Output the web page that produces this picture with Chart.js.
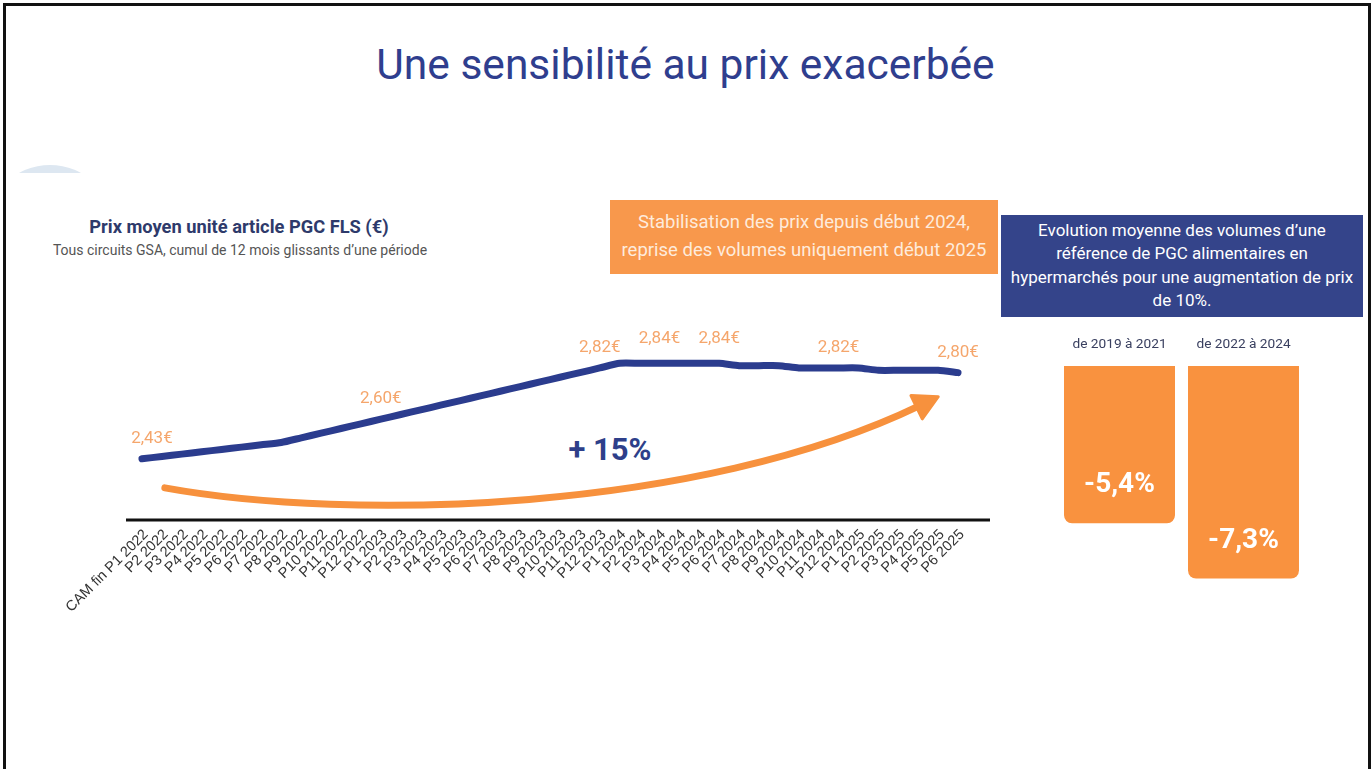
<!DOCTYPE html>
<html>
<head>
<meta charset="utf-8">
<script src="https://cdn.jsdelivr.net/npm/chart.js@4"></script>
<style>
  body { margin: 0; background: #fff; font-family: Roboto, "Noto Sans", sans-serif; }
  #page { position: relative; width: 1371px; height: 769px; overflow: hidden; }
  .frame { position: absolute; left: 3px; top: 3px; width: 1362px; height: 780px; border: 3px solid #111; border-bottom: none; }
  .title { position: absolute; left: 0; width: 1371px; top: 40px; text-align: center; font-size: 42.5px; color: #2F3E8E; }
  .deco { position: absolute; left: 18px; top: 165px; width: 64px; height: 8px; overflow: hidden; }
  .deco div { position: absolute; left: -32px; top: 0; width: 128px; height: 128px; border-radius: 50%; background: #DDE7F1; }
  .sub1 { position: absolute; left: 36px; width: 406px; top: 216px; text-align: center; font-weight: bold; font-size: 18.3px; color: #2E3A6B; }
  .sub2 { position: absolute; left: 10px; width: 460px; top: 242px; text-align: center; font-size: 14px; color: #555; }
  .obox { position: absolute; left: 610px; top: 200px; width: 388px; height: 74px; background: #F8984C; color: #FEEBDC;
          font-size: 18.5px; line-height: 28px; text-align: center; box-sizing: border-box; padding-top: 8px; }
  .nbox { position: absolute; left: 1001px; top: 215px; width: 362px; height: 102px; background: #34448A; color: #fff;
          font-size: 17px; line-height: 23.3px; text-align: center; box-sizing: border-box; padding-top: 4px; }
  .pct { position: absolute; left: 510px; width: 200px; top: 431px; text-align: center; font-weight: bold; font-size: 31px; color: #2E3F8A; }
  #lineWrap { position: absolute; left: 0; top: 320px; width: 1010px; height: 330px; }
  #barWrap { position: absolute; left: 1040px; top: 320px; width: 300px; height: 279px; }
</style>
</head>
<body>
<div id="page">
  <div class="frame"></div>
  <div class="title">Une sensibilité au prix exacerbée</div>
  <div class="deco"><div></div></div>
  <div class="sub1">Prix moyen unité article PGC FLS (€)</div>
  <div class="sub2">Tous circuits GSA, cumul de 12 mois glissants d’une période</div>
  <div class="obox">Stabilisation des prix depuis début 2024,<br>reprise des volumes uniquement début 2025</div>
  <div class="nbox">Evolution moyenne des volumes d’une<br>référence de PGC alimentaires en<br>hypermarchés pour une augmentation de prix<br>de 10%.</div>
  <div class="pct">+ 15%</div>
  <div id="lineWrap"><canvas id="priceChart"></canvas></div>
  <div id="barWrap"><canvas id="volChart"></canvas></div>
</div>
<script>
// periods (cumul 12 mois glissants)
var periods = ["CAM fin P1 2022", "P2 2022", "P3 2022", "P4 2022", "P5 2022", "P6 2022", "P7 2022", "P8 2022",
  "P9 2022", "P10 2022", "P11 2022", "P12 2022",
  "P1 2023", "P2 2023", "P3 2023", "P4 2023", "P5 2023", "P6 2023", "P7 2023", "P8 2023",
  "P9 2023", "P10 2023", "P11 2023", "P12 2023",
  "P1 2024", "P2 2024", "P3 2024", "P4 2024", "P5 2024", "P6 2024", "P7 2024", "P8 2024",
  "P9 2024", "P10 2024", "P11 2024", "P12 2024",
  "P1 2025", "P2 2025", "P3 2025", "P4 2025", "P5 2025", "P6 2025"];
var prices = [2.43, 2.44, 2.45, 2.46, 2.47, 2.48, 2.49, 2.50,
  2.52, 2.54, 2.56, 2.58,
  2.60, 2.62, 2.64, 2.66, 2.68, 2.70, 2.72, 2.74,
  2.76, 2.78, 2.80, 2.82,
  2.84, 2.84, 2.84, 2.84, 2.84, 2.84, 2.83, 2.83,
  2.83, 2.82, 2.82, 2.82,
  2.82, 2.81, 2.81, 2.81, 2.81, 2.80];
var labelledPoints = [0, 12, 23, 26, 29, 35, 41];

// arrow "+15%" as [category index, price] anchors
var arrowPath = [[1.15, 2.305], [10.45, 2.16], [28.0, 2.20], [39.1, 2.659]];

var volPeriods = ["de 2019 à 2021", "de 2022 à 2024"];
var volChange = [-5.4, -7.3];

var navy = '#2B3C8E';
var orange = '#F7913D';

function fr(v, d) { return v.toFixed(d).replace('.', ','); }

var priceDecor = {
  id: 'priceDecor',
  afterDatasetsDraw: function(chart) {
    var ctx = chart.ctx, x = chart.scales.x, y = chart.scales.y, a = chart.chartArea;
    ctx.save();
    // axis line
    ctx.strokeStyle = '#111';
    ctx.lineWidth = 3;
    ctx.beginPath();
    ctx.moveTo(a.left - 6, a.bottom);
    ctx.lineTo(a.right + 22, a.bottom);
    ctx.stroke();
    // orange arrow
    var p = arrowPath.map(function(q) { return [x.getPixelForValue(q[0]), y.getPixelForValue(q[1])]; });
    var dx = p[3][0] - p[2][0], dy = p[3][1] - p[2][1];
    var len = Math.sqrt(dx * dx + dy * dy); dx /= len; dy /= len;
    ctx.strokeStyle = orange;
    ctx.fillStyle = orange;
    ctx.lineWidth = 7;
    ctx.lineCap = 'round';
    ctx.beginPath();
    ctx.moveTo(p[0][0], p[0][1]);
    ctx.bezierCurveTo(p[1][0], p[1][1], p[2][0], p[2][1], p[3][0], p[3][1]);
    ctx.stroke();
    var tipX = p[3][0] + dx * 20, tipY = p[3][1] + dy * 20;
    ctx.lineJoin = 'round';
    ctx.lineWidth = 3;
    ctx.beginPath();
    ctx.moveTo(tipX, tipY);
    ctx.lineTo(p[3][0] - dx * 4 - dy * 13, p[3][1] - dy * 4 + dx * 13);
    ctx.lineTo(p[3][0] - dx * 4 + dy * 13, p[3][1] - dy * 4 - dx * 13);
    ctx.closePath();
    ctx.fill();
    ctx.stroke();
    // value labels
    ctx.fillStyle = '#F5A66C';
    ctx.font = '17px Roboto';
    ctx.textAlign = 'center';
    ctx.textBaseline = 'middle';
    var meta = chart.getDatasetMeta(0);
    labelledPoints.forEach(function(i) {
      var pt = meta.data[i];
      var off = prices[i] >= 2.84 ? 25 : 20;
      ctx.fillText(fr(prices[i], 2) + '€', pt.x + (i === 0 ? 10 : 0), pt.y - off);
    });
    ctx.restore();
  }
};

new Chart(document.getElementById('priceChart'), {
  type: 'line',
  data: {
    labels: periods,
    datasets: [{
      data: prices,
      borderColor: navy,
      borderWidth: 7,
      borderCapStyle: 'round',
      borderJoinStyle: 'round',
      pointRadius: 0,
      tension: 0.2
    }]
  },
  options: {
    responsive: true,
    maintainAspectRatio: false,
    animation: false,
    layout: { padding: { left: 132, right: 42, top: 0, bottom: 0 } },
    plugins: { legend: { display: false }, tooltip: { enabled: false } },
    scales: {
      x: {
        offset: true,
        grid: { display: false, drawTicks: false },
        border: { display: false },
        ticks: { autoSkip: false, minRotation: 45, maxRotation: 45, padding: 6, labelOffset: 4, color: '#333',
                 font: { family: 'Liberation Sans', size: 14.5 } },
        afterFit: function(axis) { axis.height = 130; }
      },
      y: { display: false, min: 2.167, max: 3.026 }
    }
  },
  plugins: [priceDecor]
});

var barLabels = {
  id: 'barLabels',
  afterDatasetsDraw: function(chart) {
    var ctx = chart.ctx;
    ctx.save();
    ctx.fillStyle = '#fff';
    ctx.font = 'bold 28px Roboto';
    ctx.textAlign = 'center';
    ctx.textBaseline = 'middle';
    chart.getDatasetMeta(0).data.forEach(function(bar, i) {
      ctx.fillText(fr(volChange[i], 1) + '%', bar.x, bar.y - 38);
    });
    ctx.restore();
  }
};

new Chart(document.getElementById('volChart'), {
  type: 'bar',
  data: {
    labels: volPeriods,
    datasets: [{
      data: volChange,
      backgroundColor: '#F9923F',
      borderRadius: 8,
      categoryPercentage: 1,
      barPercentage: 0.895
    }]
  },
  options: {
    responsive: true,
    maintainAspectRatio: false,
    animation: false,
    layout: { padding: { left: 17.5, right: 34.5, top: 0, bottom: 0 } },
    plugins: { legend: { display: false }, tooltip: { enabled: false } },
    scales: {
      x: {
        position: 'top',
        grid: { display: false, drawTicks: false },
        border: { display: false },
        ticks: { padding: 13, color: '#3A4060', font: { family: 'Roboto', size: 13.7 } },
        afterFit: function(axis) { axis.height = 46; }
      },
      y: { display: false, min: -8, max: 0 }
    }
  },
  plugins: [barLabels]
});
</script>
</body>
</html>
